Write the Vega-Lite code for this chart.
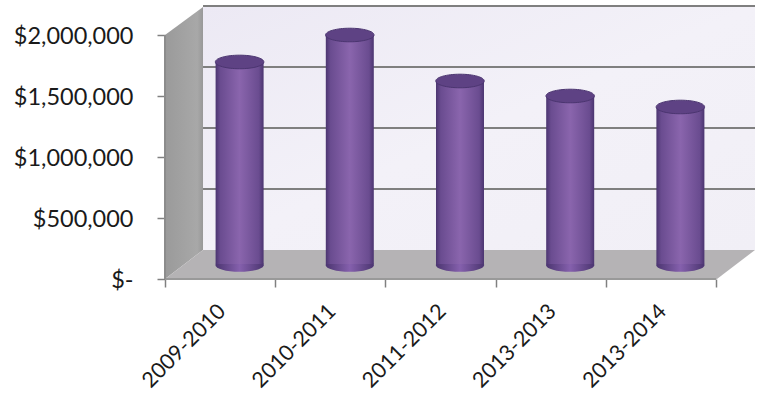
{"$schema":"https://vega.github.io/schema/vega-lite/v6.json","width":590,"height":272,"autosize":"none","padding":{"left":165,"top":7,"right":5,"bottom":121},"background":"white","config":{"view":{"stroke":null},"axis":{"grid":false,"title":null,"labelFont":"Lato","labelColor":"#1a1a1a","domain":false}},"datasets":{"bars":[{"period":"2009-2010","pos":0.5,"amount":1656000},{"period":"2010-2011","pos":1.5,"amount":1877000},{"period":"2011-2012","pos":2.5,"amount":1500000},{"period":"2013-2013","pos":3.5,"amount":1377000},{"period":"2013-2014","pos":4.5,"amount":1287000}],"side":[{"a":0,"lo":0,"hi":2000000},{"a":0.345,"lo":237705,"hi":2229508}],"floor":[{"a":0,"lo":0,"hi":0},{"a":0.345,"lo":0,"hi":237705},{"a":5.009,"lo":0,"hi":237705},{"a":5.354,"lo":237705,"hi":237705}],"back":[{"a":0.345,"a2":5.354,"lo":237705,"hi":2229508}],"grid":[{"g":500000},{"g":1000000},{"g":1500000},{"g":2000000}],"xticks":[{"t":0},{"t":1},{"t":2},{"t":3},{"t":4},{"t":5}]},"resolve":{"axis":{"x":"independent","y":"independent"}},"layer":[{"data":{"name":"back"},"mark":{"type":"rect","fill":{"x1":0,"y1":0,"x2":1,"y2":1,"gradient":"linear","stops":[{"offset":0,"color":"#ece9f4"},{"offset":0.5,"color":"#f3f1f8"},{"offset":1,"color":"#f1eff6"}]}},"encoding":{"x":{"field":"a","type":"quantitative","scale":{"domain":[0,5.354],"nice":false,"zero":false,"padding":0},"axis":{"values":[0,1,2,3,4,5],"labels":false,"ticks":true,"tickSize":8,"tickColor":"#808080","tickWidth":1.5,"orient":"bottom"}},"x2":{"field":"a2"},"y":{"field":"lo","type":"quantitative","scale":{"domain":[0,2229508],"nice":false,"padding":0},"axis":{"values":[0,500000,1000000,1500000,2000000],"tickSize":8,"tickColor":"#808080","tickWidth":1.5,"labelPadding":24,"labelFontSize":23.5,"labelOffset":1.5,"labelExpr":"datum.value == 0 ? '$-\u00a0\u00a0\u00a0' : '$' + format(datum.value, ',')"}},"y2":{"field":"hi"}}},{"data":{"name":"side"},"mark":{"type":"area","fill":{"x1":0,"y1":0,"x2":1,"y2":0,"gradient":"linear","stops":[{"offset":0,"color":"#9a9a9a"},{"offset":0.85,"color":"#a8a8a8"},{"offset":1,"color":"#989898"}]}},"encoding":{"x":{"field":"a","type":"quantitative","axis":null},"y":{"field":"lo","type":"quantitative","axis":null},"y2":{"field":"hi"}}},{"data":{"name":"floor"},"mark":{"type":"area","fill":"#b5b3b5"},"encoding":{"x":{"field":"a","type":"quantitative","axis":null},"y":{"field":"lo","type":"quantitative","axis":null},"y2":{"field":"hi"}}},{"data":{"name":"grid"},"mark":{"type":"rule","color":"#7f7f7f","strokeWidth":2,"yOffset":-29},"encoding":{"x":{"datum":0.345,"type":"quantitative","axis":null},"x2":{"datum":5.354},"y":{"field":"g","type":"quantitative","axis":null}}},{"data":{"name":"xticks"},"mark":{"type":"rule","color":"#999999","strokeWidth":2},"encoding":{"x":{"datum":0,"type":"quantitative","axis":null},"x2":{"datum":5},"y":{"datum":0,"type":"quantitative","axis":null}}},{"data":{"name":"xticks"},"mark":{"type":"rule","color":"#8c8c8c","strokeWidth":1.5},"encoding":{"x":{"datum":0,"type":"quantitative","axis":null},"y":{"datum":0,"type":"quantitative","axis":null},"y2":{"datum":2000000}}},{"data":{"name":"bars"},"mark":{"type":"point","filled":true,"opacity":1,"size":2352,"xOffset":19.5,"yOffset":-14,"shape":"M -1 0 A 1 0.28 0 1 0 1 0 A 1 0.28 0 1 0 -1 0 Z","fill":{"x1":0,"y1":0,"x2":1,"y2":0,"gradient":"linear","stops":[{"offset":0,"color":"#4b3570"},{"offset":0.5,"color":"#8560ad"},{"offset":1,"color":"#4b3570"}]}},"encoding":{"x":{"field":"pos","type":"quantitative","axis":{"values":[0.5,1.5,2.5,3.5,4.5],"ticks":false,"labelAngle":-45,"labelAlign":"right","labelBaseline":"middle","labelPadding":29,"labelOffset":2,"labelFontSize":21.5,"labelOverlap":false,"orient":"bottom","labelExpr":"['2009-2010','2010-2011','2011-2012','2013-2013','2013-2014'][datum.value - 0.5]"}},"y":{"datum":0,"type":"quantitative","axis":null}}},{"data":{"name":"bars"},"mark":{"type":"bar","orient":"vertical","size":48,"xOffset":19.5,"yOffset":-15,"y2Offset":-15,"fill":{"x1":0,"y1":0,"x2":1,"y2":0,"gradient":"linear","stops":[{"offset":0,"color":"#4b3570"},{"offset":0.1,"color":"#6a4c90"},{"offset":0.5,"color":"#8a65ad"},{"offset":0.9,"color":"#6a4c90"},{"offset":1,"color":"#4b3570"}]}},"encoding":{"x":{"field":"pos","type":"quantitative","axis":null},"y":{"field":"amount","type":"quantitative","stack":null,"axis":null},"y2":{"datum":0}}},{"data":{"name":"bars"},"mark":{"type":"point","filled":true,"opacity":1,"size":2352,"xOffset":19.5,"yOffset":-15,"shape":"M -1 0 A 1 0.28 0 1 0 1 0 A 1 0.28 0 1 0 -1 0 Z","fill":"#5e4284","stroke":"#4b3570","strokeWidth":1},"encoding":{"x":{"field":"pos","type":"quantitative","axis":null},"y":{"field":"amount","type":"quantitative","axis":null}}}]}
